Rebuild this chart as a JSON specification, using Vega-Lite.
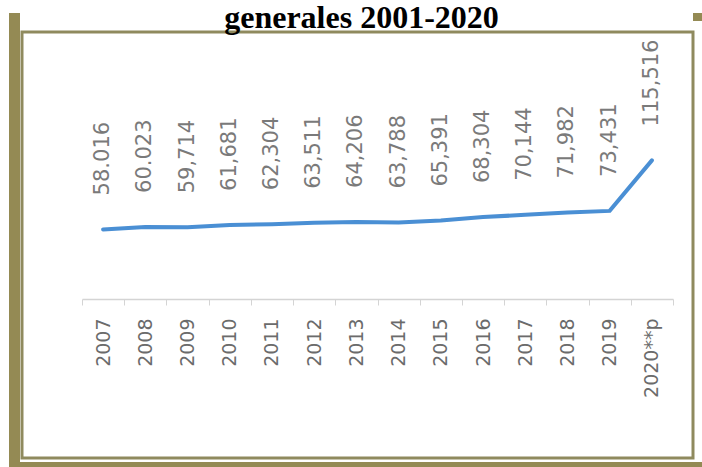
{
  "$schema": "https://vega.github.io/schema/vega-lite/v6.json",
  "padding": {"left": 9, "top": 0, "right": 0, "bottom": 0},
  "autosize": {"type": "pad"},
  "background": "white",
  "columns": 3,
  "spacing": {"row": 0, "column": 0},
  "bounds": "flush",
  "align": "each",
  "concat": [
    {
      "width": 11,
      "height": 19,
      "view": {"fill": "#948a54", "stroke": null},
      "data": {"values": [{"k": 1}]},
      "mark": {"type": "point", "opacity": 0},
      "encoding": {}
    },
    {
      "width": 671,
      "height": 19,
      "view": {"fill": null, "stroke": null},
      "data": {"values": [{"k": 1}]},
      "mark": {"type": "point", "opacity": 0},
      "encoding": {}
    },
    {
      "width": 9,
      "height": 8,
      "view": {"fill": "#948a54", "stroke": null},
      "data": {"values": [{"k": 1}]},
      "mark": {"type": "point", "opacity": 0},
      "encoding": {}
    },
    {
      "width": 11,
      "height": 430,
      "view": {"fill": "#948a54", "stroke": null},
      "data": {"values": [{"k": 1}]},
      "mark": {"type": "point", "opacity": 0},
      "encoding": {}
    },
    {
      "title": {
        "text": "generales 2001-2020",
        "font": "Liberation Serif",
        "fontSize": 32,
        "fontWeight": "bold",
        "color": "#000000",
        "anchor": "middle",
        "baseline": "top",
        "offset": -3,
        "dx": 4
      },
      "width": 671,
      "height": 426,
      "view": {"fill": "white", "stroke": "#8f8a5e", "strokeWidth": 3},
      "data": {
        "values": [
          {"year": "2007", "value": 58.016, "label": "58.016"},
          {"year": "2008", "value": 60.023, "label": "60.023"},
          {"year": "2009", "value": 59.714, "label": "59,714"},
          {"year": "2010", "value": 61.681, "label": "61,681"},
          {"year": "2011", "value": 62.304, "label": "62,304"},
          {"year": "2012", "value": 63.511, "label": "63,511"},
          {"year": "2013", "value": 64.206, "label": "64,206"},
          {"year": "2014", "value": 63.788, "label": "63,788"},
          {"year": "2015", "value": 65.391, "label": "65,391"},
          {"year": "2016", "value": 68.304, "label": "68,304"},
          {"year": "2017", "value": 70.144, "label": "70,144"},
          {"year": "2018", "value": 71.982, "label": "71,982"},
          {"year": "2019", "value": 73.431, "label": "73,431"},
          {"year": "2020**p", "value": 115.516, "label": "115,516"}
        ]
      },
      "encoding": {
        "x": {
          "field": "year",
          "type": "ordinal",
          "sort": null,
          "scale": {"type": "band", "paddingInner": 0, "paddingOuter": 0, "range": [60, 651]},
          "axis": {
            "title": null,
            "offset": -159,
            "labelAngle": -90,
            "labelFont": "DejaVu Sans",
            "labelFontSize": 19,
            "labelColor": "#6b6b6b",
            "labelPadding": 13,
            "labelOverlap": false,
            "labelBound": false,
            "tickBand": "extent",
            "tickSize": 6,
            "tickColor": "#d4d4d4",
            "domainColor": "#d4d4d4",
            "domainWidth": 1.5,
            "grid": false
          }
        },
        "y": {
          "field": "value",
          "type": "quantitative",
          "scale": {"domain": [-132.5, 222.5], "nice": false, "zero": false},
          "axis": null
        }
      },
      "layer": [
        {"mark": {"type": "line", "color": "#4a8fd4", "strokeWidth": 4, "strokeCap": "round"}},
        {
          "mark": {
            "type": "text",
            "angle": 270,
            "align": "left",
            "baseline": "middle",
            "dx": 34,
            "font": "DejaVu Sans",
            "fontSize": 21,
            "color": "#7a7a7a"
          },
          "encoding": {"text": {"field": "label"}}
        }
      ]
    },
    {
      "width": 9,
      "height": 430,
      "view": {"fill": null, "stroke": null},
      "data": {"values": [{"k": 1}]},
      "mark": {"type": "point", "opacity": 0},
      "encoding": {}
    },
    {
      "width": 13,
      "height": 5,
      "view": {"fill": "#948a54", "stroke": null},
      "data": {"values": [{"k": 1}]},
      "mark": {"type": "point", "opacity": 0},
      "encoding": {}
    },
    {
      "width": 671,
      "height": 5,
      "view": {"fill": "#948a54", "stroke": null},
      "data": {"values": [{"k": 1}]},
      "mark": {"type": "point", "opacity": 0},
      "encoding": {}
    },
    {
      "width": 9,
      "height": 5,
      "view": {"fill": "#948a54", "stroke": null},
      "data": {"values": [{"k": 1}]},
      "mark": {"type": "point", "opacity": 0},
      "encoding": {}
    }
  ]
}
